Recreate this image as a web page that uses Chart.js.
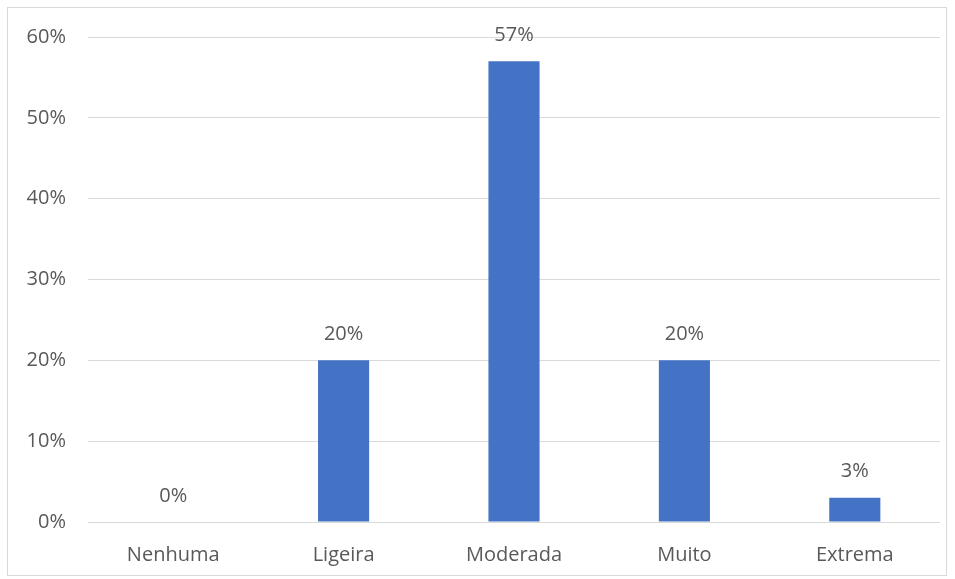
<!DOCTYPE html>
<html>
<head>
<meta charset="utf-8">
<script src="https://cdn.jsdelivr.net/npm/chart.js@4/dist/chart.umd.min.js"></script>
<style>
  html, body { margin: 0; padding: 0; background: #fff; }
  #wrap { position: relative; width: 955px; height: 579px; }
  #frame { position: absolute; left: 7px; top: 7px; width: 940px; height: 569px; border: 1px solid #d9d9d9; box-sizing: border-box; pointer-events: none; }
</style>
</head>
<body>
<div id="wrap">
  <canvas id="myChart" width="955" height="579"></canvas>
  <div id="frame"></div>
</div>
<script>
const categories = ['Nenhuma', 'Ligeira', 'Moderada', 'Muito', 'Extrema'];
const values = [0, 20, 57, 20, 3];
const yTicks = [0, 10, 20, 30, 40, 50, 60];

const textColor = '#595959';
const font = { family: "'Open Sans', sans-serif", size: 20 };

// draws the value above each bar, like Excel data labels
const barLabels = {
  id: 'barLabels',
  afterDatasetsDraw(chart) {
    const { ctx } = chart;
    const meta = chart.getDatasetMeta(0);
    ctx.save();
    ctx.font = `${font.size}px ${font.family}`;
    ctx.fillStyle = textColor;
    ctx.textAlign = 'center';
    ctx.textBaseline = 'middle';
    meta.data.forEach((bar, i) => {
      ctx.fillText(values[i] + '%', bar.x, bar.y - 26);
    });
    ctx.restore();
  }
};

const context = document.getElementById('myChart').getContext('2d');
new Chart(context, {
  type: 'bar',
  data: {
    labels: categories,
    datasets: [{
      data: values,
      backgroundColor: '#4472c4',
      barPercentage: 0.6,
      categoryPercentage: 0.5
    }]
  },
  options: {
    responsive: false,
    animation: false,
    layout: { padding: { top: 37, right: 15, left: 0, bottom: 0 } },
    plugins: { legend: { display: false }, tooltip: { enabled: false } },
    scales: {
      x: {
        grid: { display: false },
        border: { display: false },
        ticks: { color: textColor, font, padding: 13, maxRotation: 0 },
        afterFit: scale => { scale.height = 57; }
      },
      y: {
        min: 0,
        max: 60,
        afterBuildTicks: scale => { scale.ticks = yTicks.map(v => ({ value: v })); },
        grid: { color: '#d9d9d9', lineWidth: 1, drawTicks: false },
        border: { display: false },
        ticks: { color: textColor, font, padding: 22, callback: v => v + '%' },
        afterFit: scale => { scale.width = 88; }
      }
    }
  },
  plugins: [barLabels]
});
</script>
</body>
</html>
